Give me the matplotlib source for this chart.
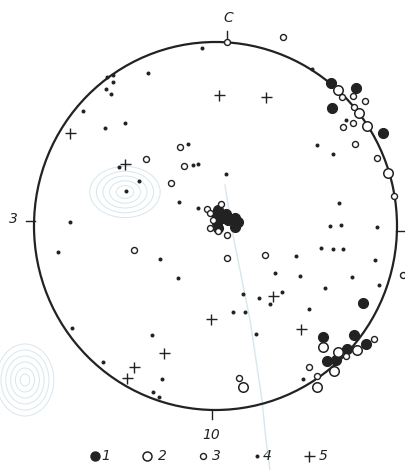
import matplotlib
matplotlib.use("Agg")
import matplotlib.pyplot as plt
from matplotlib.patches import Ellipse

# Point positions (image pixel coordinates, y downward)
type1_x = [331, 356, 332, 383, 363, 323, 354, 347, 366, 327, 336,
           218, 217, 222, 228, 235, 238, 235, 217, 218, 226]
type1_y = [83, 88, 108, 133, 303, 337, 335, 349, 344, 361, 360,
           210, 215, 218, 220, 218, 222, 227, 223, 228, 214]

type2_x = [338, 359, 367, 388, 323, 357, 338, 334, 317, 243]
type2_y = [90, 113, 126, 173, 347, 350, 352, 371, 387, 387]

type3_x = [227, 283, 342, 353, 365, 354, 343, 353, 355, 377, 394, 403,
           146, 180, 184, 171, 134, 227, 265, 239, 374, 346, 309, 317,
           207, 210, 221, 213, 210, 218, 227]
type3_y = [42, 37, 97, 96, 101, 107, 127, 123, 144, 158, 196, 275,
           159, 147, 166, 183, 250, 258, 255, 378, 339, 356, 367, 376,
           209, 213, 204, 220, 228, 231, 235]

type4_x = [202, 312, 148, 107, 113, 113, 106, 111, 83, 105, 125, 119, 188, 193, 198,
           139, 126, 226, 179, 198, 70, 317, 333, 339, 330, 341, 377, 346,
           58, 160, 296, 321, 333, 343, 375, 178, 275, 300, 352, 379, 325,
           243, 259, 282, 270, 309, 233, 245, 256, 72, 152, 103, 162, 153,
           159, 303]
type4_y = [48, 69, 73, 77, 75, 82, 89, 94, 111, 128, 123, 167, 144, 165, 164,
           181, 191, 174, 202, 208, 222, 145, 154, 203, 226, 225, 227, 120,
           252, 259, 256, 248, 249, 249, 260, 278, 273, 276, 277, 285, 288,
           294, 298, 292, 304, 309, 312, 312, 334, 328, 335, 362, 379, 392,
           397, 379]

type5_x = [219, 266, 70, 125, 273, 211, 301, 164, 134, 127]
type5_y = [95, 97, 133, 164, 296, 319, 329, 353, 367, 378]

legend_labels = ["1", "2", "3", "4", "5"]

fig = plt.figure(figsize=(4.06, 4.70), dpi=100)
ax = fig.add_axes([0, 0, 1, 1])
ax.set_xlim(0, 406)
ax.set_ylim(470, 0)
ax.axis("off")

# faint bleed-through contours from the scan
bleed = "#d6e7ed"
ax.plot([225, 232, 242, 250, 256, 262, 266, 270], [185, 230, 280, 320, 360, 400, 440, 470],
        color=bleed, lw=1.0, zorder=0)
for r in [8, 14, 20, 26, 32]:
    ax.add_patch(Ellipse((125, 192), r * 2.2, r * 1.6, fill=False, ec=bleed, lw=0.7, zorder=0))
for r in [6, 12, 18, 24, 30, 36]:
    ax.add_patch(Ellipse((25, 380), r * 1.6, r * 2.0, fill=False, ec=bleed, lw=0.7, zorder=0))

ink = "#222222"
ax.add_patch(Ellipse((215.5, 226), 363, 368, fill=False, ec=ink, lw=1.6, zorder=1))

# ticks
ax.plot([227, 227], [31, 42], color=ink, lw=1.0)
ax.plot([26, 35], [221, 221], color=ink, lw=1.0)
ax.plot([212, 212], [410, 419], color=ink, lw=1.0)
ax.plot([396, 405], [231, 231], color=ink, lw=1.0)
ax.text(228, 18, "C", fontsize=10, fontstyle="italic", ha="center", va="center", color=ink)
ax.text(13, 219, "3", fontsize=10, fontstyle="italic", ha="center", va="center", color=ink)
ax.text(211, 435, "10", fontsize=10, fontstyle="italic", ha="center", va="center", color=ink)

k = 0.72
ax.plot(type1_x, type1_y, "o", ms=10 * k, mfc=ink, mec=ink, mew=0.8, ls="none", zorder=3)
ax.plot(type2_x, type2_y, "o", ms=9.5 * k, mfc="white", mec=ink, mew=1.1, ls="none", zorder=4)
ax.plot(type3_x, type3_y, "o", ms=6.0 * k, mfc="white", mec=ink, mew=1.0, ls="none", zorder=4)
ax.plot(type4_x, type4_y, "o", ms=4.0 * k, mfc=ink, mec=ink, mew=0, ls="none", zorder=3)
ax.plot(type5_x, type5_y, "+", ms=11 * k, mec=ink, mew=1.0, ls="none", zorder=3)

# legend row
leg_mx = [95, 147, 203, 257, 309]
leg_tx = [106, 162, 216, 267, 323]
ly = 456
ax.plot(leg_mx[0], ly, "o", ms=9 * k, mfc=ink, mec=ink)
ax.plot(leg_mx[1], ly, "o", ms=9 * k, mfc="white", mec=ink, mew=1.1)
ax.plot(leg_mx[2], ly, "o", ms=6 * k, mfc="white", mec=ink, mew=1.0)
ax.plot(leg_mx[3], ly, "o", ms=4 * k, mfc=ink, mec=ink, mew=0)
ax.plot(leg_mx[4], ly, "+", ms=11 * k, mec=ink, mew=1.0)
for tx, lab in zip(leg_tx, legend_labels):
    ax.text(tx, ly, lab, fontsize=10, fontstyle="italic", ha="center", va="center", color=ink)

fig.savefig("out.png", dpi=100)
